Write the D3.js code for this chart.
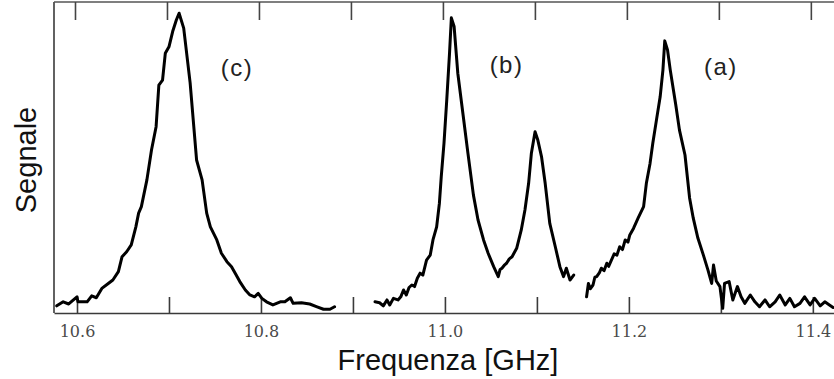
<!DOCTYPE html>
<html>
<head>
<meta charset="utf-8">
<script src="https://cdn.jsdelivr.net/npm/d3@7"></script>
<style>
  html, body { margin: 0; padding: 0; background: #fff; }
  svg { display: block; }
</style>
</head>
<body>
<svg id="chart" width="834" height="379"></svg>
<script>
// Resonance spectra: frequency in GHz, signal in arbitrary units (0–100 full scale)
const freqC = [10.578,10.585,10.591,10.600,10.601,10.611,10.616,10.621,10.627,10.634,10.639,10.645,10.649,10.654,10.659,10.664,10.667,10.670,10.676,10.681,10.686,10.689,10.693,10.696,10.700,10.704,10.708,10.711,10.716,10.723,10.730,10.736,10.741,10.745,10.752,10.757,10.763,10.768,10.772,10.777,10.783,10.788,10.793,10.797,10.801,10.806,10.813,10.821,10.826,10.832,10.835,10.844,10.853,10.861,10.868,10.875,10.880];
const signalC = [2.3,3.6,2.9,5.2,3.6,3.6,5.5,4.9,7.9,9.5,10.6,13.3,18.1,19.7,21.9,27.7,32.1,34.2,42.8,52.4,59.9,73.3,74.9,83.5,85.6,90.5,94.2,96.4,91.6,74.0,49.2,42.8,32.1,27.7,23.5,19.2,16.5,14.9,12.8,10.1,7.4,5.8,5.2,6.3,4.7,3.6,2.6,3.6,3.6,4.9,3.1,3.3,2.9,2.0,1.2,1.2,2.0];

const freqB = [10.924,10.929,10.933,10.937,10.940,10.944,10.949,10.952,10.955,10.958,10.961,10.964,10.967,10.970,10.973,10.976,10.980,10.984,10.987,10.991,10.994,10.996,10.999,11.002,11.005,11.007,11.010,11.014,11.020,11.025,11.031,11.036,11.042,11.047,11.053,11.058,11.060,11.062,11.065,11.067,11.070,11.073,11.078,11.083,11.087,11.091,11.094,11.098,11.101,11.105,11.109,11.114,11.120,11.125,11.129,11.132,11.136,11.140];
const signalB = [3.6,3.3,2.3,4.2,2.6,4.7,4.2,5.2,7.4,5.8,8.2,9.0,8.5,11.2,12.8,12.2,17.0,18.6,23.5,27.7,35.3,43.8,54.6,68.5,83.5,94.9,92.1,77.1,63.1,51.4,37.9,29.9,23.5,19.2,14.9,11.7,14.0,14.4,15.5,16.0,17.4,18.1,20.8,26.7,33.1,41.7,51.4,58.3,55.6,50.3,41.7,28.8,21.3,14.9,11.7,14.4,10.6,12.2];

const freqA = [11.154,11.156,11.158,11.161,11.163,11.165,11.168,11.170,11.173,11.176,11.178,11.181,11.184,11.187,11.190,11.193,11.196,11.199,11.201,11.205,11.210,11.216,11.219,11.223,11.226,11.230,11.234,11.237,11.239,11.242,11.245,11.251,11.255,11.261,11.266,11.270,11.275,11.281,11.286,11.290,11.292,11.295,11.299,11.302,11.304,11.309,11.313,11.318,11.322,11.326,11.332,11.337,11.342,11.348,11.353,11.359,11.364,11.370,11.375,11.380,11.386,11.391,11.397,11.402,11.408,11.413,11.418,11.422];
const signalA = [5.2,9.5,7.8,9.0,11.5,11.7,13.0,14.4,13.6,16.0,15.0,17.0,19.0,18.6,21.3,20.4,23.5,22.8,25.1,27.2,30.5,34.2,41.7,48.1,54.6,62.1,69.5,78.1,87.5,84.6,78.1,66.9,58.8,50.8,37.0,30.5,24.1,18.6,13.8,9.5,15.4,10.3,8.5,1.5,9.5,10.1,4.2,8.5,5.2,3.1,5.8,3.6,2.0,4.2,2.0,3.6,5.8,2.6,4.7,2.0,3.1,5.2,2.6,4.7,2.3,3.6,2.6,1.8];

const tickValues = [10.6, 10.7, 10.8, 10.9, 11.0, 11.1, 11.2, 11.3, 11.4];
const tickLabels = ["10.6", "", "10.8", "", "11.0", "", "11.2", "", "11.4"];

const peakLabels = ["(c)", "(b)", "(a)"];
const peakLabelFreq = [10.774, 11.067, 11.300];
const peakLabelSignal = [76.2, 77.2, 76.5];

const xTitle = "Frequenza [GHz]";
const yTitle = "Segnale";

// Layout
const width = 834, height = 379;
const plot = { left: 54, right: 834, top: 2, bottom: 313 };

const svg = d3.select("#chart");

const x = d3.scaleLinear().domain([10.575, 11.423]).range([plot.left, plot.right]);
const y = d3.scaleLinear().domain([0, 100]).range([plot.bottom, plot.top]);

// Frame: left, top and bottom edges
const frameColor = "#3a3a3a";
svg.append("line")
  .attr("x1", plot.left).attr("x2", plot.left)
  .attr("y1", plot.top).attr("y2", plot.bottom)
  .attr("stroke", frameColor).attr("stroke-width", 1.6);
svg.append("line")
  .attr("x1", plot.left).attr("x2", plot.right)
  .attr("y1", plot.top).attr("y2", plot.top)
  .attr("stroke", "#555").attr("stroke-width", 1.6);

// Bottom axis with inward ticks
const xAxis = d3.axisBottom(x)
  .tickValues(tickValues)
  .tickSizeInner(-16)
  .tickSizeOuter(0)
  .tickFormat((d, i) => tickLabels[i]);

const gx = svg.append("g")
  .attr("transform", `translate(0,${plot.bottom})`)
  .call(xAxis);
gx.select(".domain").attr("stroke", frameColor).attr("stroke-width", 1.6);
gx.selectAll(".tick line").attr("stroke", frameColor).attr("stroke-width", 1.6);
gx.selectAll(".tick text")
  .attr("fill", "#4a4a4a")
  .attr("font-family", "'DejaVu Serif', serif")
  .attr("font-size", 16)
  .attr("y", 13)
  .attr("dy", "0.71em");

// Top axis: ticks only
const xTop = d3.axisTop(x)
  .tickValues(tickValues)
  .tickSizeInner(-18)
  .tickSizeOuter(0)
  .tickFormat("");
const gt = svg.append("g")
  .attr("transform", `translate(-2,${plot.top})`)
  .call(xTop);
gt.select(".domain").remove();
gt.selectAll(".tick line").attr("stroke", "#444").attr("stroke-width", 1.6);

// Spectra
const line = d3.line()
  .x(d => x(d[0]))
  .y(d => y(d[1]));

const series = [
  d3.zip(freqC, signalC),
  d3.zip(freqB, signalB),
  d3.zip(freqA, signalA)
];

svg.append("g")
  .selectAll("path")
  .data(series)
  .join("path")
  .attr("d", line)
  .attr("fill", "none")
  .attr("stroke", "#000")
  .attr("stroke-width", 3)
  .attr("stroke-linejoin", "round")
  .attr("stroke-linecap", "round");

// Peak labels
svg.append("g")
  .selectAll("text")
  .data(peakLabels)
  .join("text")
  .attr("x", (d, i) => x(peakLabelFreq[i]))
  .attr("y", (d, i) => y(peakLabelSignal[i]))
  .attr("text-anchor", "middle")
  .attr("font-family", "'Liberation Sans', Arial, sans-serif")
  .attr("font-size", 24)
  .attr("letter-spacing", 1.5)
  .attr("fill", "#222")
  .text(d => d);

// Axis titles
svg.append("text")
  .attr("x", 448)
  .attr("y", 370)
  .attr("text-anchor", "middle")
  .attr("font-family", "'Liberation Sans', Arial, sans-serif")
  .attr("font-size", 29)
  .attr("fill", "#111")
  .text(xTitle);

svg.append("text")
  .attr("transform", "translate(36,160) rotate(-90)")
  .attr("text-anchor", "middle")
  .attr("font-family", "'Liberation Sans', Arial, sans-serif")
  .attr("font-size", 29)
  .attr("fill", "#111")
  .text(yTitle);
</script>
</body>
</html>
